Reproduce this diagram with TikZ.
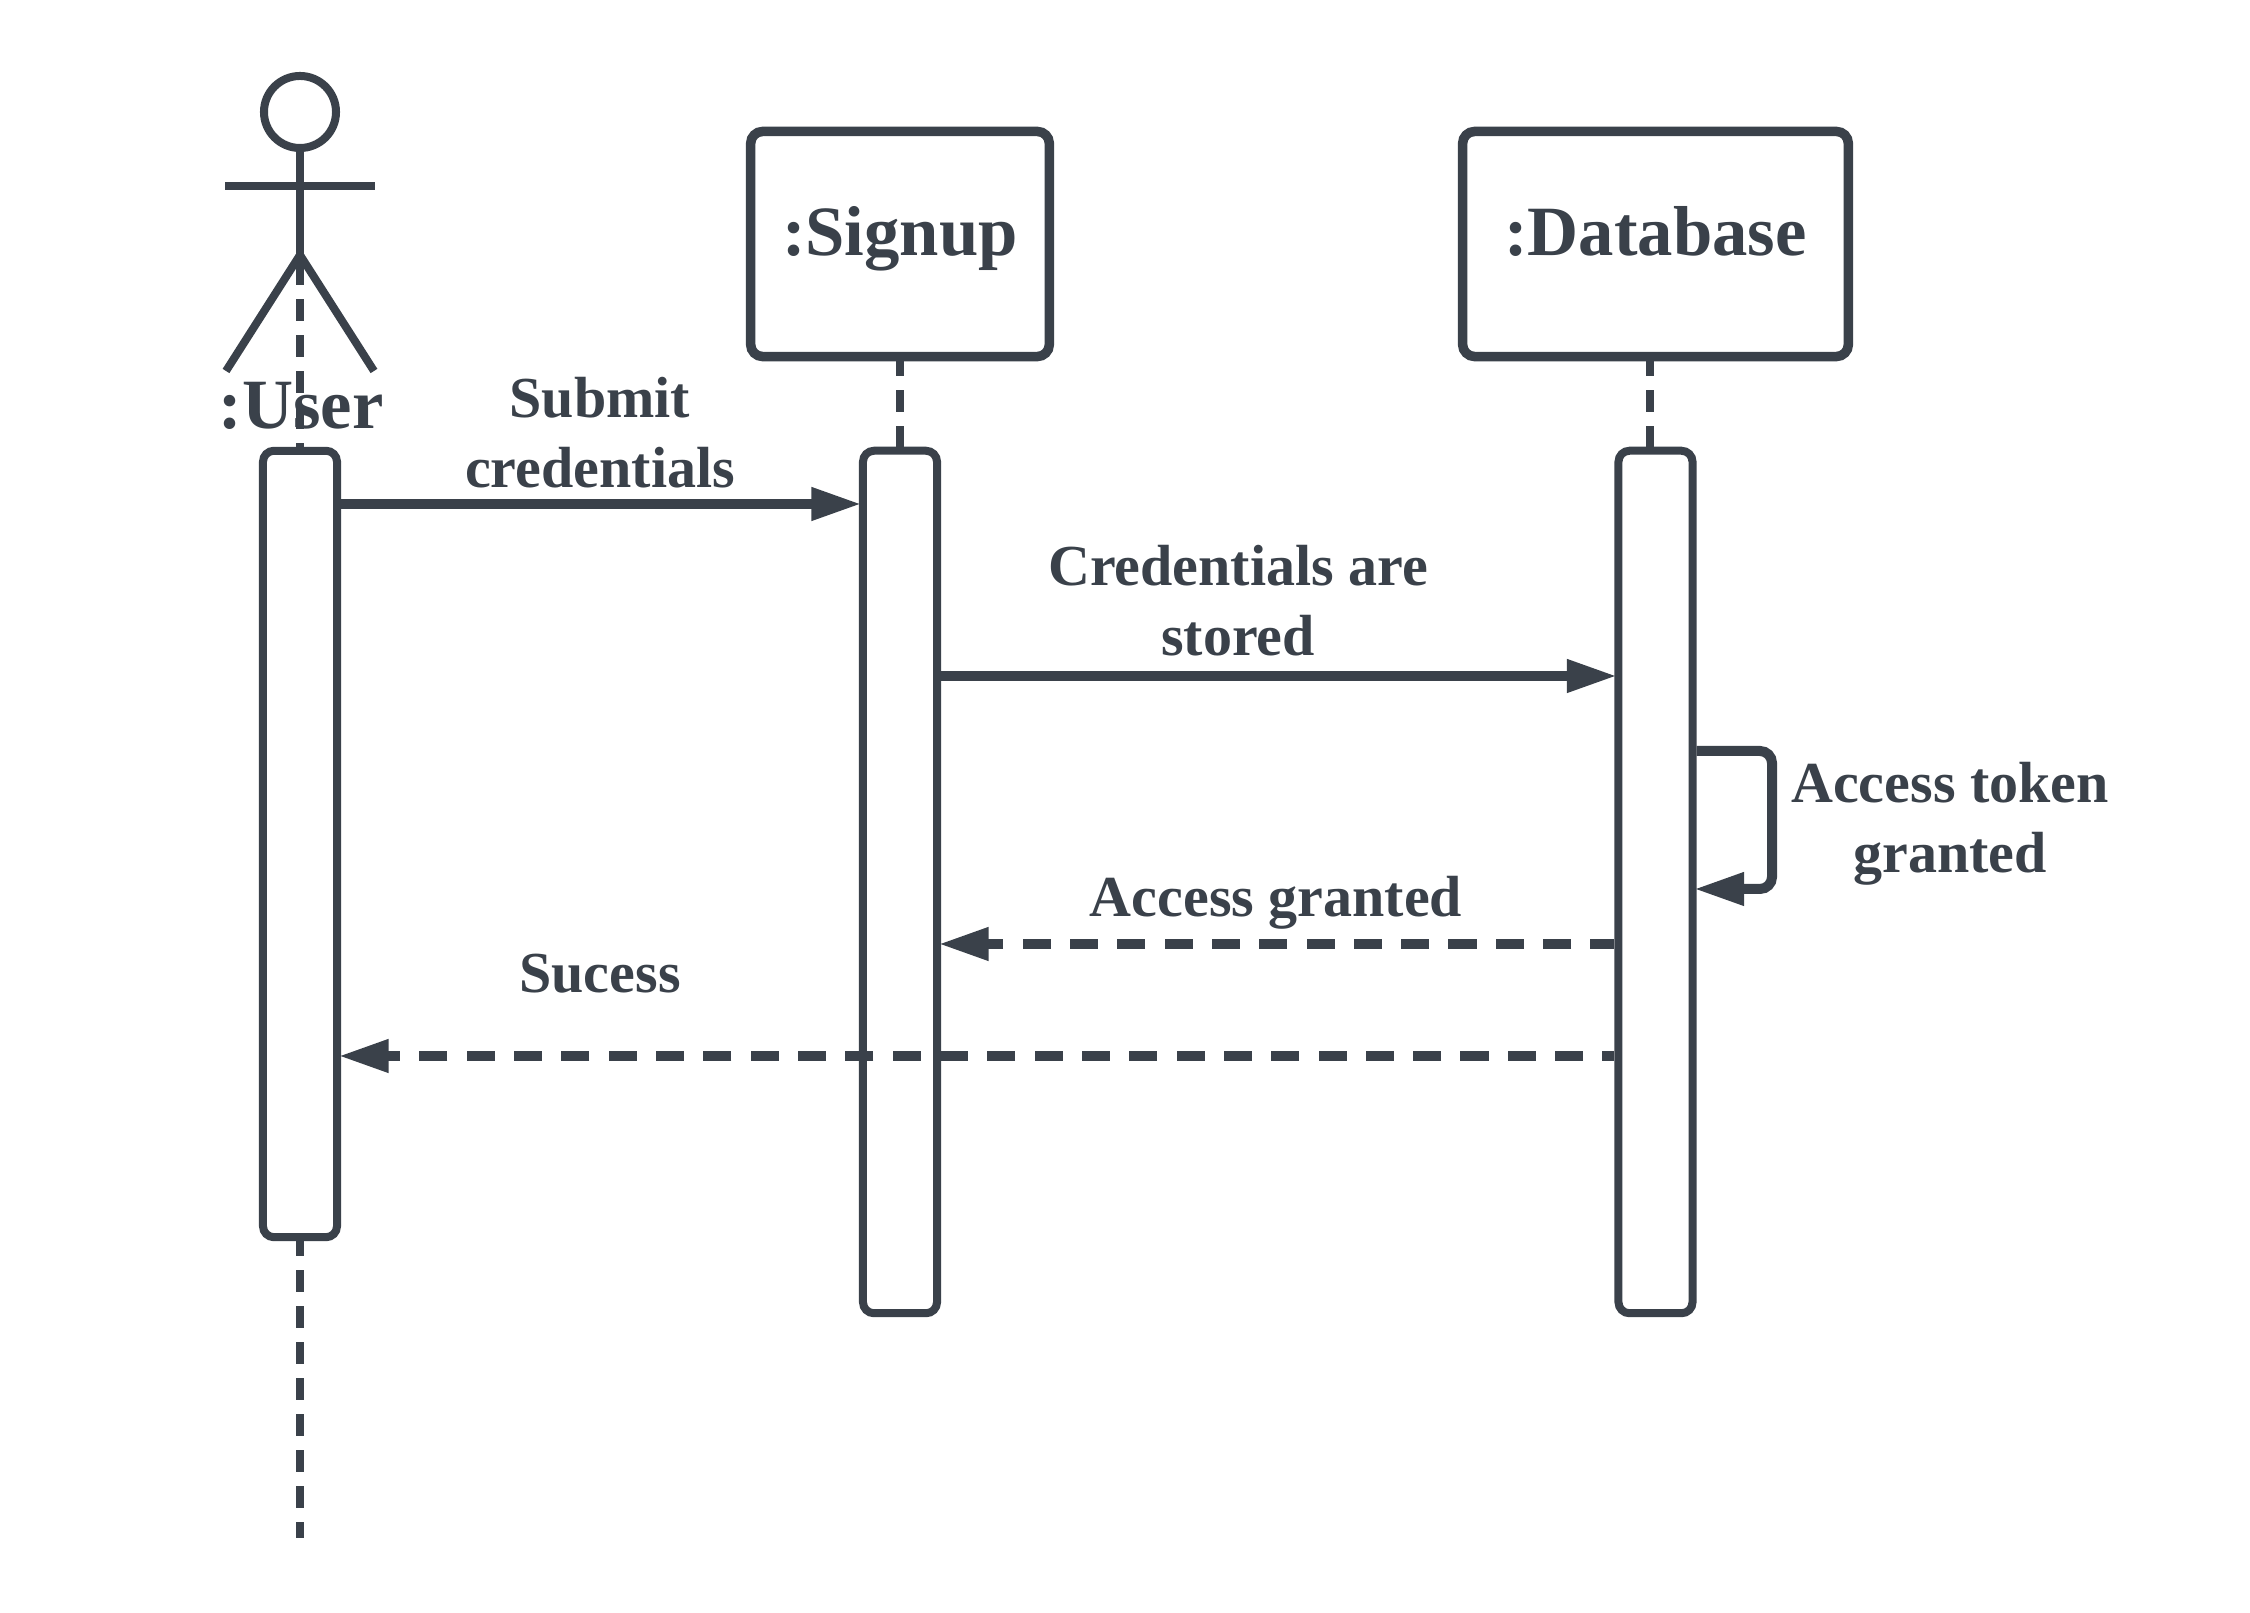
\documentclass[tikz,border=0pt]{standalone}
\usepackage{fontspec}
\setmainfont{Liberation Serif}
\usetikzlibrary{arrows.meta}
\definecolor{ink}{HTML}{3A414A}
\tikzset{
    every node/.style = {text=ink,font=\bfseries},
    actbar/.style = {draw=ink,line width=0.08cm,rounded corners=0.11cm,inner sep=0pt,minimum width=0.74cm},
    headbox/.style = {draw=ink,line width=0.095cm,rounded corners=0.12cm,inner sep=0pt,text height=1.245cm,text depth=1.005cm,font=\bfseries\fontsize{20.1}{23}\selectfont},
    lifeline/.style = {draw=ink,line width=0.08cm,dash pattern=on 0.22cm off 0.14cm,dash phase=0.07cm},
    actor/.style = {draw=ink,line width=0.08cm},
    msg/.style = {draw=ink,line width=0.1cm,shorten >=-0.025cm,-{Triangle[length=0.5cm,width=0.31cm]}},
    reply/.style = {msg,dash pattern=on 0.28cm off 0.193cm},
    msglabel/.style = {anchor=base,align=center,inner sep=0pt,font=\bfseries\fontsize{16.5}{19.9}\selectfont},
    namelabel/.style = {anchor=base,inner sep=0pt,font=\bfseries\fontsize{20.1}{23}\selectfont}
}
\begin{document}
\begin{tikzpicture}[x=0.01cm,y=-0.01cm]
    \useasboundingbox (0,0) rectangle (2250,1613);

    % actor
    \node[actor,circle,inner sep=0pt,minimum size=0.72cm] (head) at (300,112) {};
    \coordinate (crotch) at (300,255);
    \coordinate (handleft) at (225,186);
    \coordinate (handright) at (375,186);
    \coordinate (footleft) at (226,371);
    \coordinate (footright) at (374,371);
    \draw[actor] (head.south) -- (crotch);
    \draw[actor] (handleft) -- (handright);
    \draw[actor] (footleft) -- (crotch) -- (footright);
    \node[namelabel] (username) at (301,429) {:User};

    % objects
    \node[headbox,minimum width=2.985cm] (signup) at (900,244) {:Signup};
    \node[headbox,minimum width=3.855cm] (database) at (1655.5,244) {:Database};

    % activation bars
    \node[actbar,minimum height=7.86cm] (userbar) at (300,844) {};
    \node[actbar,minimum height=8.62cm] (signupbar) at (900,882) {};
    \node[actbar,minimum height=8.62cm] (databasebar) at (1655.5,882) {};

    % lifelines
    \coordinate (dbline) at (1650,0);
    \coordinate (userend) at (300,1538);
    \draw[lifeline,dash phase=0.28cm] (crotch) -- (userbar.north);
    \draw[lifeline] (userbar.south) -- (userend);
    \draw[lifeline] (signup.south) -- (signupbar.north);
    \draw[lifeline] (database.south -| dbline) -- (databasebar.north -| dbline);

    % messages
    \coordinate (msgsubmit) at (0,504);
    \coordinate (msgstore) at (0,676);
    \coordinate (msgtoken) at (0,751);
    \coordinate (tokenturn) at (1772,889);
    \coordinate (msgaccess) at (0,944);
    \coordinate (msgsuccess) at (0,1056);
    \draw[msg] (userbar.east |- msgsubmit) -- (signupbar.west |- msgsubmit);
    \draw[msg] (signupbar.east |- msgstore) -- (databasebar.west |- msgstore);
    \draw[msg,rounded corners=0.12cm] (databasebar.east |- msgtoken) -| (tokenturn) -- (databasebar.east |- tokenturn);
    \draw[reply,dash phase=0.04cm] (databasebar.west |- msgaccess) -- (signupbar.east |- msgaccess);
    \draw[reply,dash phase=0.16cm] (databasebar.west |- msgsuccess) -- (userbar.east |- msgsuccess);

    \node[msglabel] (submitlabel) at (600,487.5) {Submit\\credentials};
    \node[msglabel] (storelabel) at (1238,655.5) {Credentials are\\stored};
    \node[msglabel] (tokenlabel) at (1950,872.5) {Access token\\granted};
    \node[msglabel] (accesslabel) at (1276,917) {Access granted};
    \node[msglabel] (successlabel) at (600,993) {Sucess};
\end{tikzpicture}
\end{document}
